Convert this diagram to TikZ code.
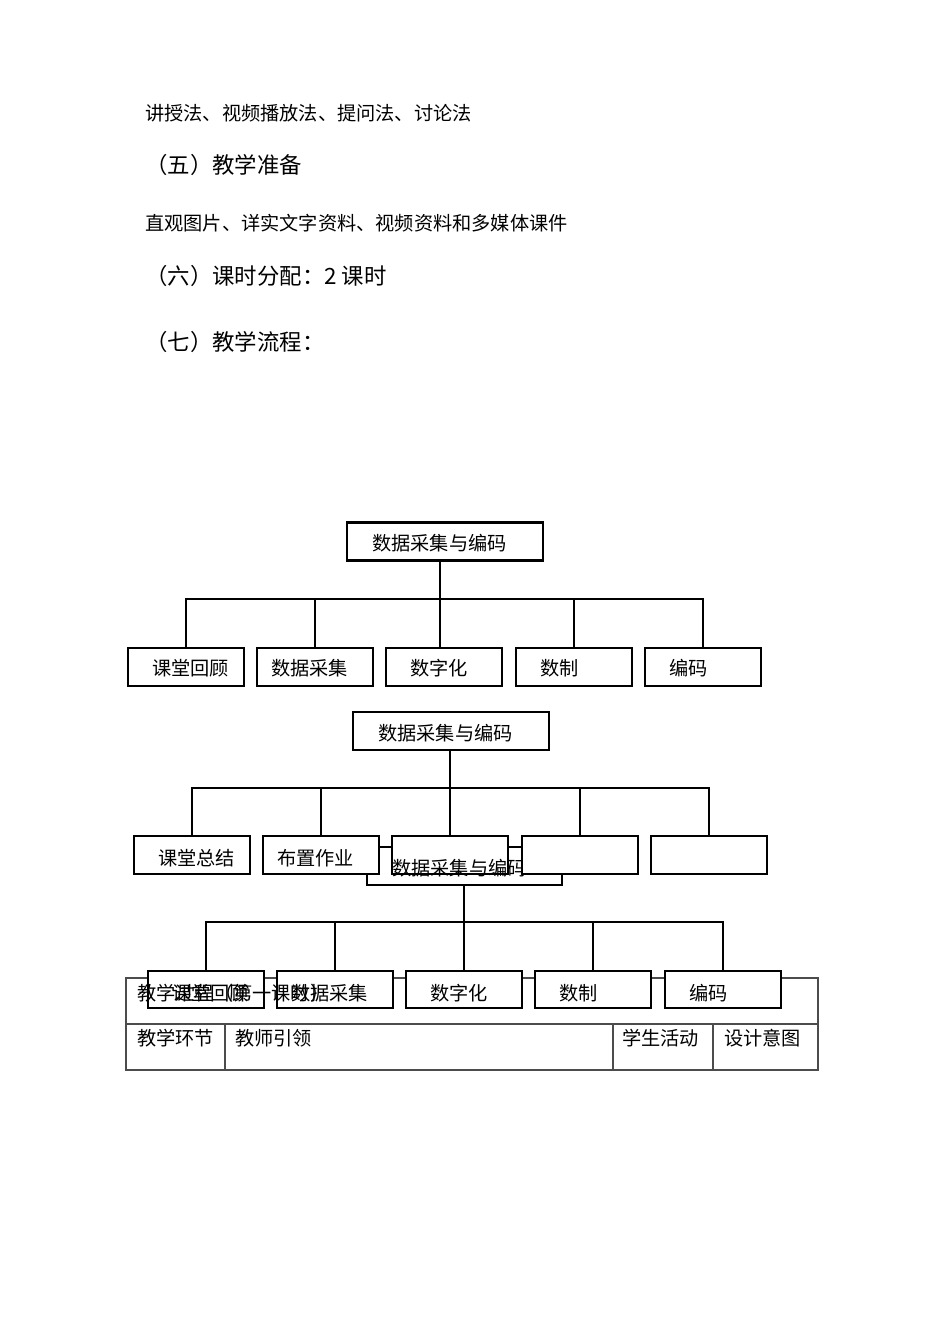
\documentclass[tikz,border=0pt]{standalone}
\usepackage{fontspec}
\newfontfamily\cjk{Noto Sans CJK SC}
\pgfdeclarelayer{bg}
\pgfsetlayers{bg,main}
\begin{document}
\begin{tikzpicture}[x=1pt,y=-1pt,
  body/.style={anchor=west, inner sep=0pt, font=\cjk\fontsize{19.2pt}{23pt}\selectfont},
  head/.style={anchor=west, inner sep=0pt, font=\cjk\fontsize{22.4pt}{27pt}\selectfont},
  txt/.style={anchor=west, inner sep=0pt, font=\cjk\fontsize{19.2pt}{23pt}\selectfont},
  rootbox/.style={draw, line width=2.4pt, fill=white, minimum width=196pt, minimum height=38pt, inner sep=0pt},
  kidbox/.style={draw, line width=2.4pt, fill=white, minimum width=116pt, minimum height=38pt, inner sep=0pt},
  conn/.style={line width=2pt, draw=black},
  tbl/.style={line width=1.2pt, draw=black!70}]
\useasboundingbox (0,0) rectangle (950,1344);

% ---------- text lines ----------
\node[body] (l1) at (145,113) {讲授法、视频播放法、提问法、讨论法};
\node[head] (h5) at (145,165) {（五）教学准备};
\node[body] (l2) at (145,223) {直观图片、详实文字资料、视频资料和多媒体课件};
\node[head] (h6) at (145,276) {（六）课时分配：2 课时};
\node[head] (h7) at (145,342) {（七）教学流程：};

% ---------- tree 1 ----------
\node[rootbox] (r1) at (445,541.5) {};
\node[txt] (r1t) at (372,543) {数据采集与编码};
\node[kidbox] (c11) at (186,667) {};
\node[kidbox] (c12) at (315,667) {};
\node[kidbox] (c13) at (444,667) {};
\node[kidbox] (c14) at (574,667) {};
\node[kidbox] (c15) at (703,667) {};
\node[txt] (c11t) at (152,668) {课堂回顾};
\node[txt] (c12t) at (271,668) {数据采集};
\node[txt] (c13t) at (410,668) {数字化};
\node[txt] (c14t) at (540,668) {数制};
\node[txt] (c15t) at (669,668) {编码};
\coordinate (bus1) at (440,599);

% ---------- tree 2 root ----------
\node[rootbox] (r2) at (451,731) {};
\node[txt] (r2t) at (378,733) {数据采集与编码};
\coordinate (bus2) at (450,788);

% ---------- tree 3 root box (behind tree 2 children) ----------
\node[rootbox, minimum width=195pt] (r3) at (464.5,866) {};
\coordinate (bus3) at (464,922);

% ---------- tree 2 children ----------
\node[kidbox] (c21) at (192,855) {};
\node[kidbox] (c22) at (321,855) {};
\node[kidbox] (c23) at (450,855) {};
\node[txt] (c21t) at (158,858) {课堂总结};
\node[txt] (c22t) at (277,858) {布置作业};
\node[txt] (r3t) at (392,868) {数据采集与编码};
\node[kidbox] (c24) at (580,855) {};
\node[kidbox] (c25) at (709,855) {};

% ---------- table lines ----------
\draw[tbl] (126,978) rectangle (818,1070);
\draw[tbl] (126,1024) -- (818,1024);
\draw[tbl] (225,1024) -- (225,1070);
\draw[tbl] (613,1024) -- (613,1070);
\draw[tbl] (713,1024) -- (713,1070);

% ---------- tree 3 children (over table) ----------
\node[kidbox, minimum height=37pt] (c31) at (206,989.5) {};
\node[kidbox, minimum height=37pt] (c32) at (335,989.5) {};
\node[kidbox, minimum height=37pt] (c33) at (464,989.5) {};
\node[kidbox, minimum height=37pt] (c34) at (593,989.5) {};
\node[kidbox, minimum height=37pt] (c35) at (723,989.5) {};

% ---------- table texts ----------
\node[txt] (tr1) at (137,993) {教学过程（第一课时）};
\node[txt] (tc1) at (137,1038) {教学环节};
\node[txt] (tc2) at (235,1038) {教师引领};
\node[txt] (tc3) at (622,1038) {学生活动};
\node[txt] (tc4) at (724,1038) {设计意图};

% ---------- tree 3 child texts ----------
\node[txt] (c31t) at (172,993) {课堂回顾};
\node[txt] (c32t) at (291,993) {数据采集};
\node[txt] (c33t) at (430,993) {数字化};
\node[txt] (c34t) at (559,993) {数制};
\node[txt] (c35t) at (689,993) {编码};

% ---------- connectors ----------
\begin{pgfonlayer}{bg}
\draw[conn] (r1.south -| bus1) -- (c13.north -| bus1);
\draw[conn] (c11.north) -- (c11.north |- bus1) -- (c15.north |- bus1) -- (c15.north);
\draw[conn] (c12.north) -- (c12.north |- bus1);
\draw[conn] (c14.north) -- (c14.north |- bus1);

\draw[conn] (r2.south -| bus2) -- (c23.north -| bus2);
\draw[conn] (c21.north) -- (c21.north |- bus2) -- (c25.north |- bus2) -- (c25.north);
\draw[conn] (c22.north) -- (c22.north |- bus2);
\draw[conn] (c24.north) -- (c24.north |- bus2);

\draw[conn] (r3.south -| bus3) -- (c33.north -| bus3);
\draw[conn] (c31.north) -- (c31.north |- bus3) -- (c35.north |- bus3) -- (c35.north);
\draw[conn] (c32.north) -- (c32.north |- bus3);
\draw[conn] (c34.north) -- (c34.north |- bus3);
\end{pgfonlayer}
\end{tikzpicture}
\end{document}
